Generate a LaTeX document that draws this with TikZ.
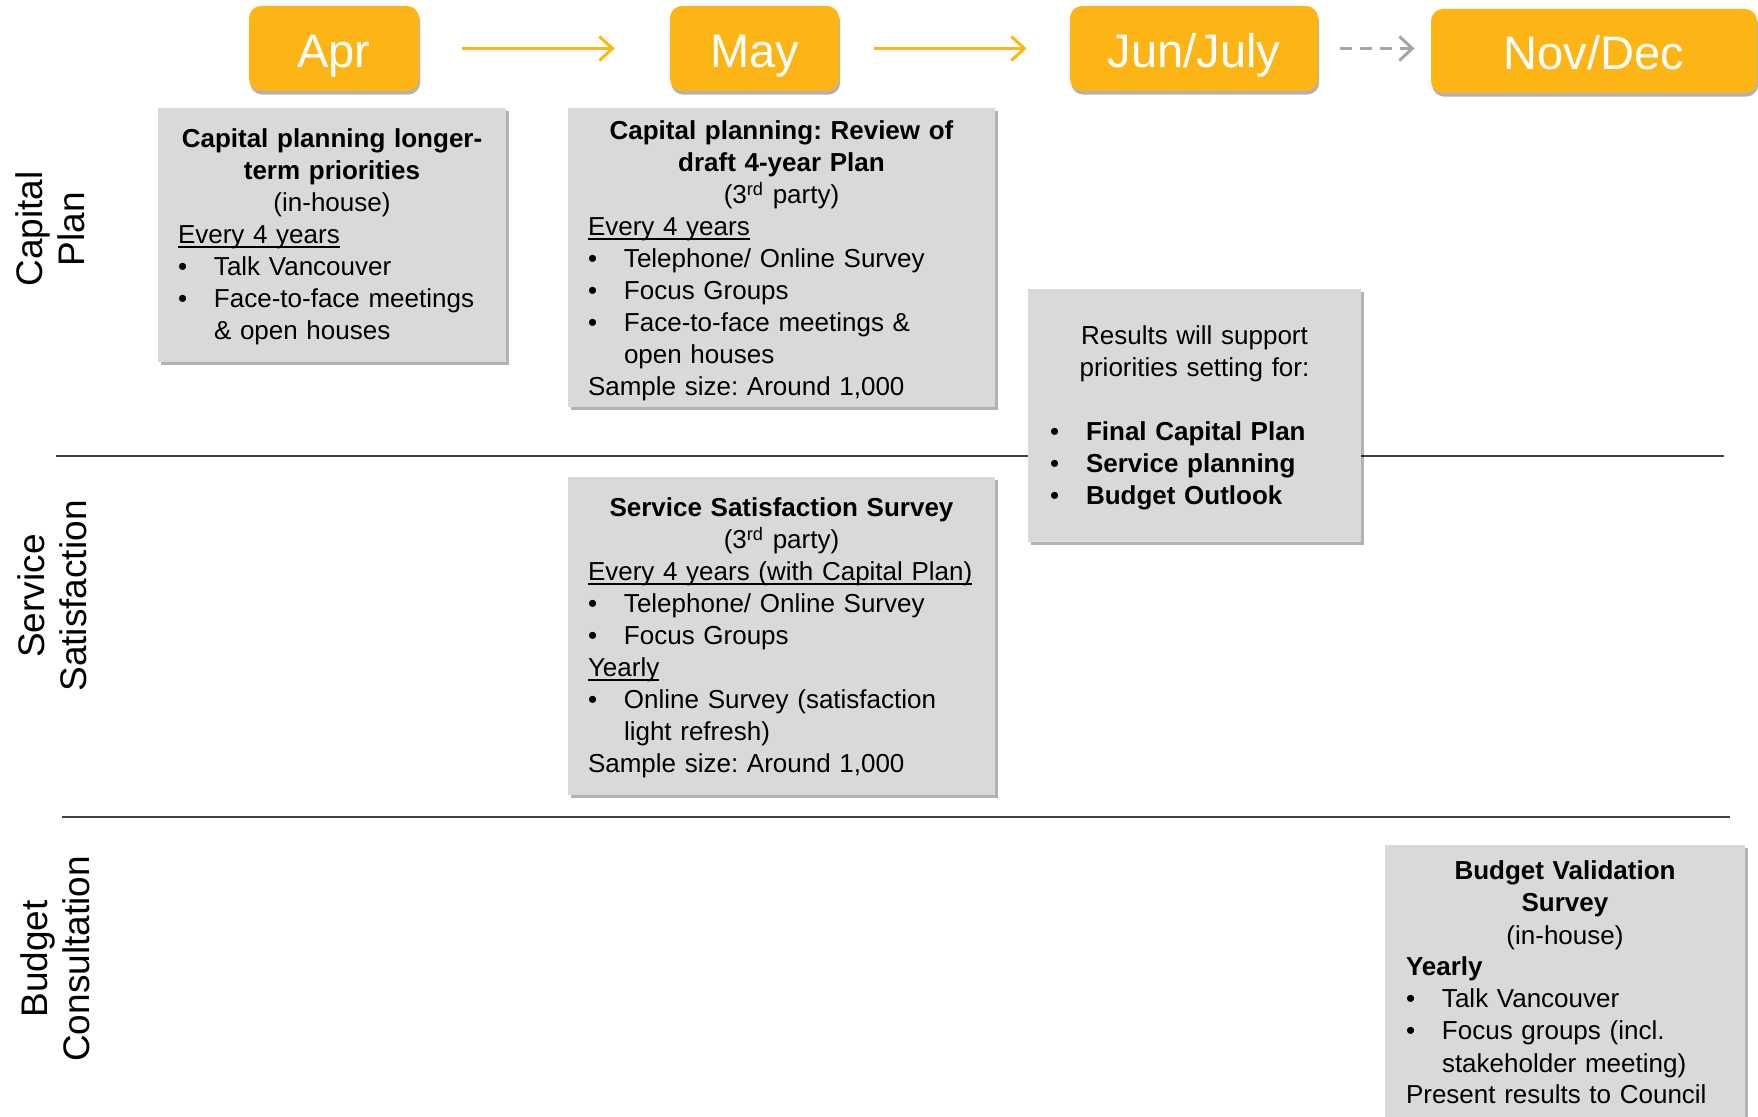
\documentclass[tikz,border=0pt]{standalone}
\usepackage{fontspec}
\setmainfont{Liberation Sans}
\usetikzlibrary{arrows.meta,shadows,fit}
\definecolor{mango}{RGB}{253,181,21}
\definecolor{boxgrey}{RGB}{217,217,217}
\definecolor{dashgrey}{RGB}{166,166,166}
\newcommand\boxsetup{\raggedright\frenchspacing\parindent=0pt\parskip=0pt}
\newcommand\fs{\rule{0pt}{12pt}}
\newcommand\ctrline[1]{\par{\centering #1\par}}
\newcommand\lftline[1]{\par\noindent #1\par}
\newcommand\bul[1]{\par\hangindent=18pt\hangafter=1\noindent\makebox[18pt][l]{\textbullet}#1\par}
\newcommand\ulin[1]{\setbox0\hbox{#1}\rlap{\rule[-1.8pt]{\wd0}{0.75pt}}\box0}
\begin{document}
\begin{tikzpicture}[x=0.5pt,y=-0.5pt,
 month/.style={rounded corners=6pt, fill=mango, inner sep=0pt, text=white,
   font=\fontsize{23.5}{28}\selectfont, text height=20pt, text depth=1.2pt,
   drop shadow={shadow xshift=0.6pt, shadow yshift=-1.8pt, fill=black, opacity=0.3}},
 greybox/.style={fill=boxgrey, inner sep=0pt,
   drop shadow={shadow xshift=1.5pt, shadow yshift=-1.5pt, fill=black, opacity=0.3}},
 txt/.style={anchor=north west, inner sep=0pt, outer sep=0pt, text width=#1,
   font=\fontsize{13}{16}\selectfont},
 side/.style={rotate=90, align=center, inner sep=0pt, font=\fontsize{18.5}{21}\selectfont},
 flow/.style={draw=mango, line width=1.5pt, -{Straight Barb[length=6.5pt,width=12pt]}},
 dflow/.style={draw=dashgrey, line width=1.5pt, dash pattern=on 6pt off 4pt,
   -{Straight Barb[length=6.5pt,width=12pt]}},
 sep/.style={draw=black!75, line width=0.6pt}]
\useasboundingbox (0,0) rectangle (1758,1117);
\clip (0,0) rectangle (1758,1117);

% separator lines
\coordinate (l1a) at (56,456);
\coordinate (l1b) at (1724,456);
\coordinate (l2a) at (62,817);
\coordinate (l2b) at (1730,817);
\draw[sep] (l1a) -- (l1b);
\draw[sep] (l2a) -- (l2b);

% month headers
\node[month, minimum width=85pt, minimum height=42.5pt] (apr) at (334,48.5) {Apr};
\node[month, minimum width=84.5pt, minimum height=42.5pt] (may) at (754.5,48.5) {May};
\node[month, minimum width=124pt, minimum height=42.5pt] (jun) at (1194,48.5) {Jun/July};
\node[month, minimum width=163pt, minimum height=42pt] (nov) at (1594,51) {Nov/Dec};

\draw[flow, shorten <=21.5pt, shorten >=27.5pt] (apr.east) -- (may.west);
\draw[flow, shorten <=17.5pt, shorten >=21.5pt] (may.east) -- (jun.west);
\draw[dflow, shorten <=11pt, shorten >=8pt] (jun.east) -- (jun.east -| nov.west);

% side labels
\node[side] (lcap) at (50,229) {Capital\\Plan};
\node[side] (lserv) at (52,596) {Service\\Satisfaction};
\node[side] (lbud) at (55,959) {Budget\\Consultation};

% box 1
\node[greybox, fit={(158,108)(506,362)}] (b1) {};
\node[txt=154pt] (t1) at (178,116) {\boxsetup
 \ctrline{\fs\textbf{Capital planning longer-}\\\textbf{term priorities}}
 \ctrline{(in-house)}
 \lftline{\ulin{Every 4 years}}
 \bul{Talk Vancouver}
 \bul{Face-to-face meetings\newline\& open houses}};

% box 2
\node[greybox, fit={(568,108)(995,407)}] (b2) {};
\node[txt=193.5pt] (t2) at (588,108) {\boxsetup
 \ctrline{\fs\textbf{Capital planning: Review of}\\\textbf{draft 4-year Plan}}
 \ctrline{(3\textsuperscript{rd} party)}
 \lftline{\ulin{Every 4 years}}
 \bul{Telephone/ Online Survey}
 \bul{Focus Groups}
 \bul{Face-to-face meetings \&\newline open houses}
 \lftline{Sample size: Around 1,000}};

% box 3
\node[greybox, fit={(1028,289)(1361,542)}] (b3) {};
\node[txt=144.5pt] (t3) at (1050,313) {\boxsetup
 \ctrline{\fs Results will support\\priorities setting for:}
 \vspace{16pt}
 \bul{\textbf{Final Capital Plan}}
 \bul{\textbf{Service planning}}
 \bul{\textbf{Budget Outlook}}};

% box 4
\node[greybox, fit={(568,477)(995,795)}] (b4) {};
\node[txt=193.5pt] (t4) at (588,485) {\boxsetup
 \ctrline{\fs\textbf{Service Satisfaction Survey}}
 \ctrline{(3\textsuperscript{rd} party)}
 \lftline{\ulin{Every 4 years (with Capital Plan)}}
 \bul{Telephone/ Online Survey}
 \bul{Focus Groups}
 \lftline{\ulin{Yearly}}
 \bul{Online Survey (satisfaction\newline light refresh)}
 \lftline{Sample size: Around 1,000}};

% box 5
\node[greybox, fit={(1385,845)(1745,1140)}] (b5) {};
\node[txt=159pt] (t5) at (1406,848) {\boxsetup
 \ctrline{\fs\textbf{Budget Validation}\\\textbf{Survey}}
 \ctrline{(in-house)}
 \lftline{\textbf{Yearly}}
 \bul{Talk Vancouver}
 \bul{Focus groups (incl.\newline stakeholder meeting)}
 \lftline{Present results to Council}};
\end{tikzpicture}
\end{document}
